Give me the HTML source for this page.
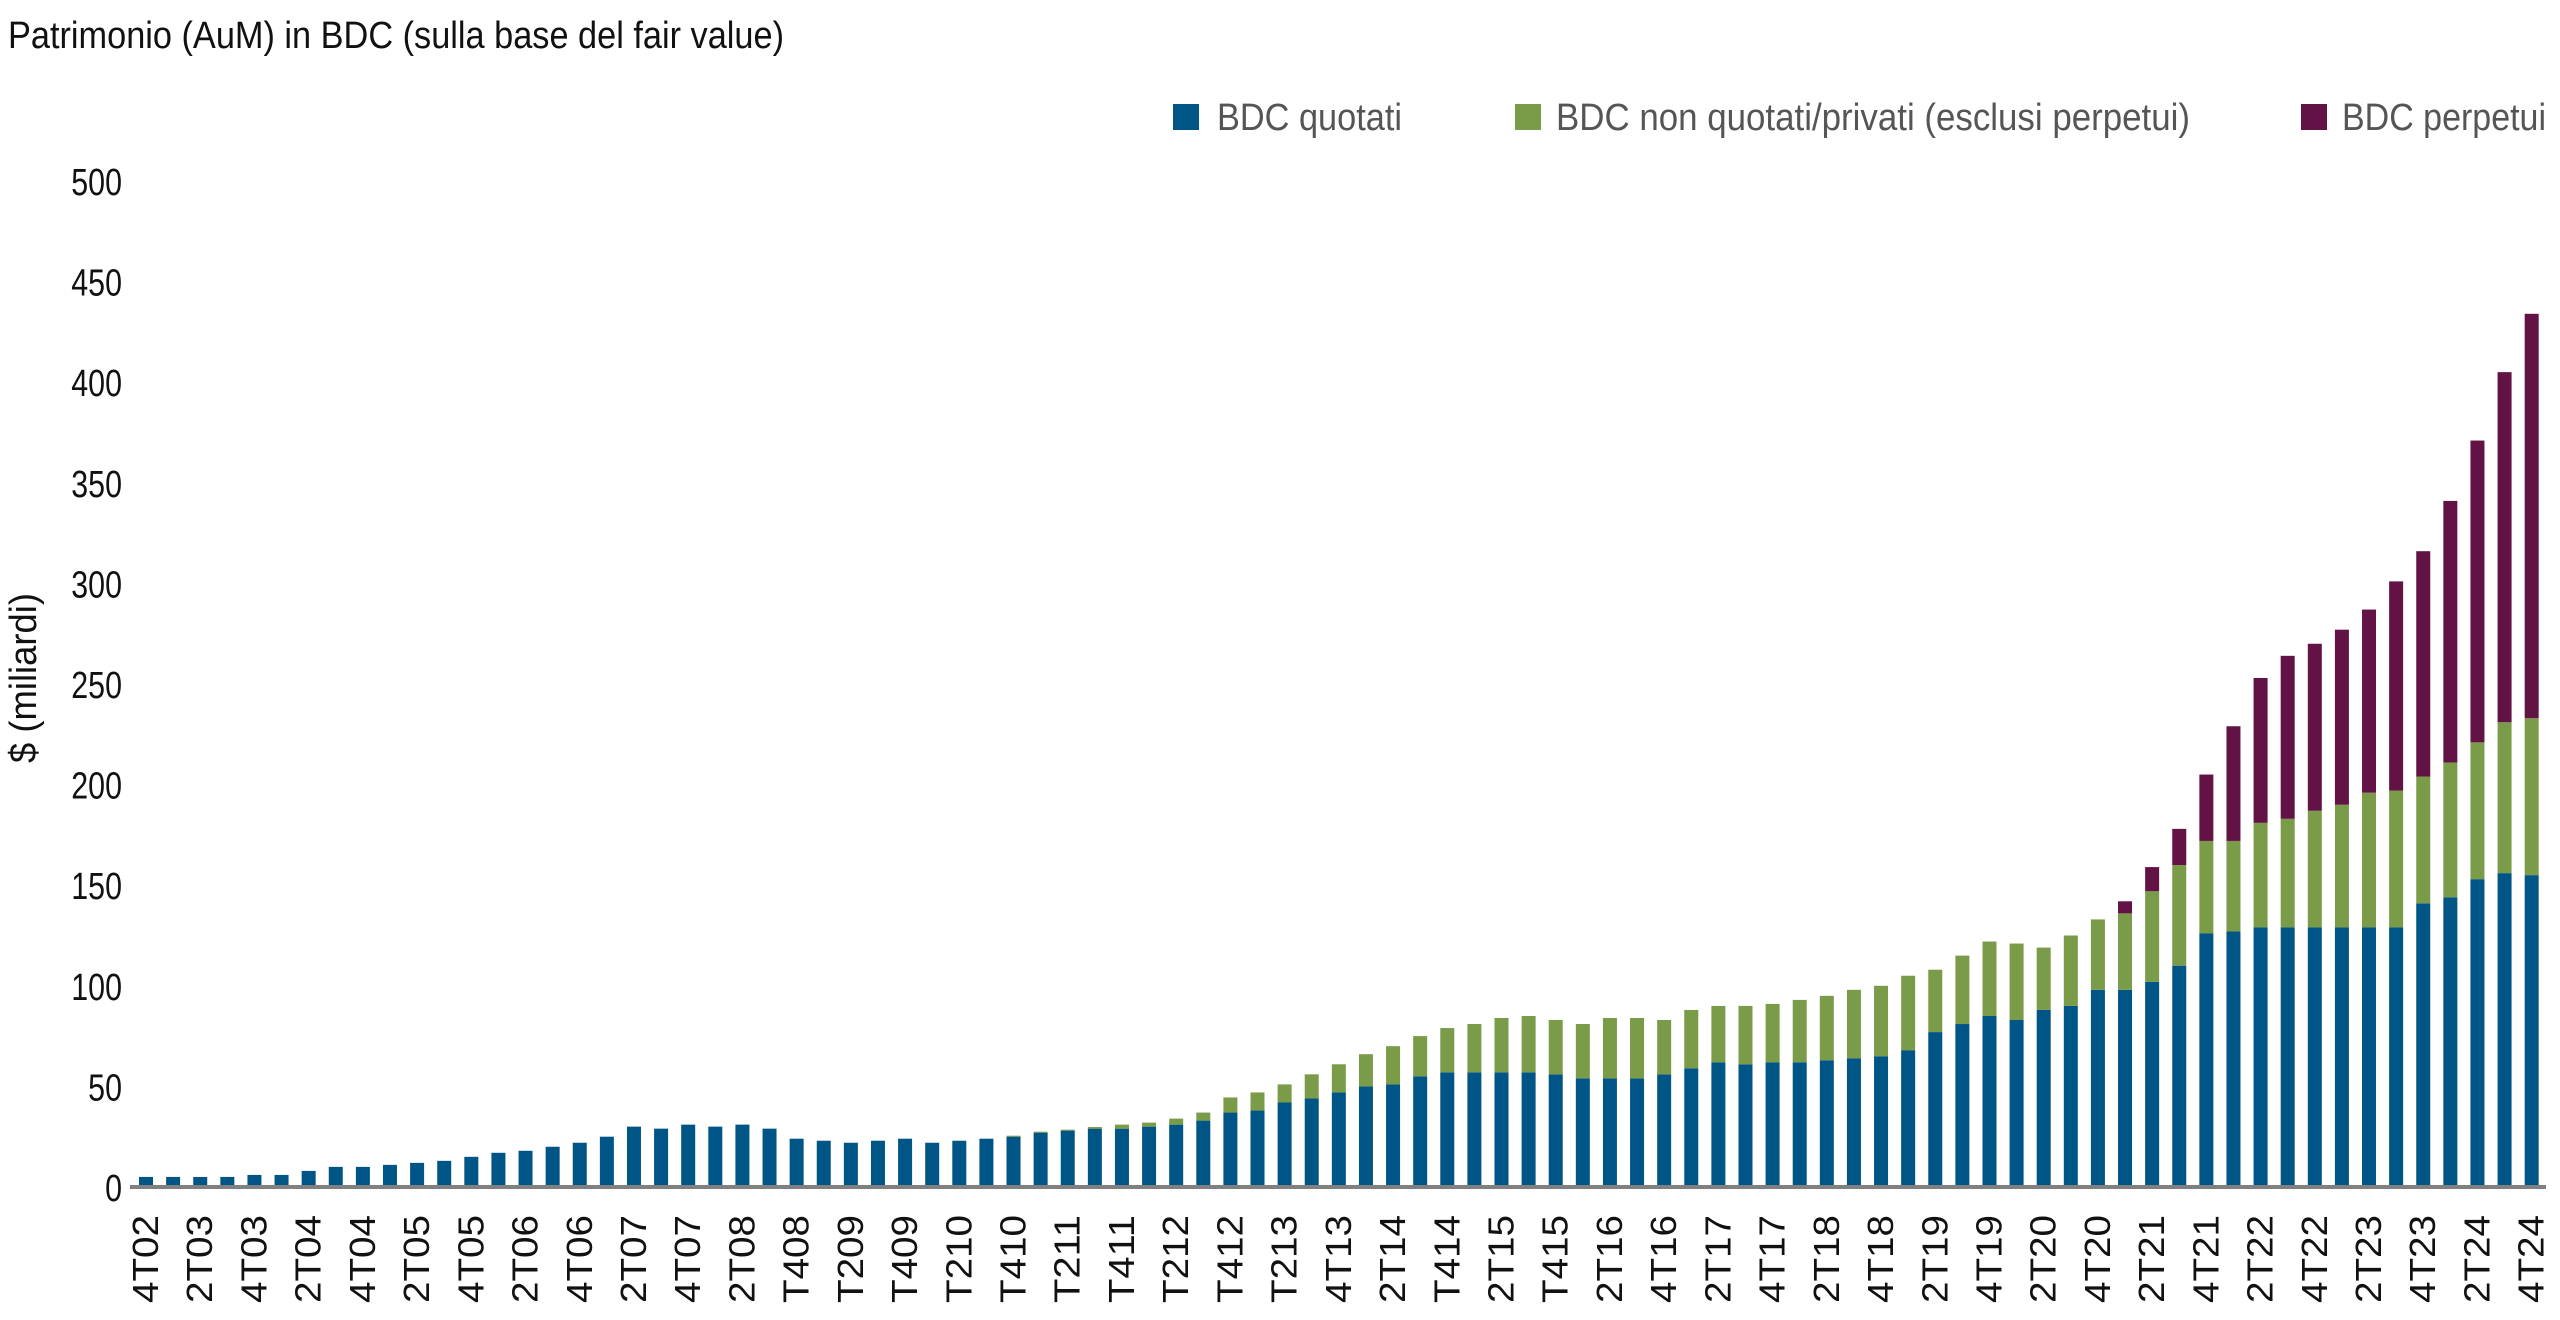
<!DOCTYPE html>
<html><head><meta charset="utf-8"><style>
html,body{margin:0;padding:0;background:#fff;}
svg{display:block;}
text{font-family:"Liberation Sans",sans-serif;}
</style></head><body>
<svg id="c" width="2560" height="1320" xmlns="http://www.w3.org/2000/svg">
<text x="8" y="48" font-size="38" fill="#111" textLength="776" lengthAdjust="spacingAndGlyphs">Patrimonio (AuM) in BDC (sulla base del fair value)</text>
<rect x="1173" y="104" width="26" height="26" fill="#005587"/>
<text x="1217" y="130" font-size="38" fill="#555" textLength="185" lengthAdjust="spacingAndGlyphs">BDC quotati</text>
<rect x="1515" y="104" width="26" height="26" fill="#7a9c48"/>
<text x="1556" y="130" font-size="38" fill="#555" textLength="634" lengthAdjust="spacingAndGlyphs">BDC non quotati/privati (esclusi perpetui)</text>
<rect x="2301" y="104" width="26" height="26" fill="#621244"/>
<text x="2342" y="130" font-size="38" fill="#555" textLength="204" lengthAdjust="spacingAndGlyphs">BDC perpetui</text>
<text transform="translate(36,678) rotate(-90)" text-anchor="middle" font-size="38" fill="#111" textLength="170" lengthAdjust="spacingAndGlyphs">$ (miliardi)</text>
<g id="g"></g>
</svg>
<script>
var B=[5,5,5,5,6,6,8,10,10,11,12,13,15,17,18,20,22,25,30,29,31,30,31,29,24,23,22,23,24,22,23,24,25,27,28,29,29,30,31,33,37,38,42,44,47,50,51,55,57,57,57,57,56,54,54,54,56,59,62,61,62,62,63,64,65,68,77,81,85,83,88,90,98,98,102,110,126,127,129,129,129,129,129,129,141,144,153,156,155];
var G=B.slice(0,32).concat([25.5,27.5,28.5,29.8,31,32,34,37,44.5,47,51,56,61,66,70,75,79,81,84,85,83,81,84,84,83,88,90,90,91,93,95,98,100,105,108,115,122,121,119,125,133,136,147,160,172,172,181,183,187,190,196,197,204,211,221,231,233]);
var P=G.slice();P[73]=142;P[74]=159;P[75]=178;P[76]=205;P[77]=229;P[78]=253;P[79]=264;P[80]=270;P[81]=277;P[82]=287;P[83]=301;P[84]=316;P[85]=341;P[86]=371;P[87]=405;P[88]=434;
var L="4T02,2T03,4T03,2T04,4T04,2T05,4T05,2T06,4T06,2T07,4T07,2T08,T408,T209,T409,T210,T410,T211,T411,T212,T412,T213,4T13,2T14,T414,2T15,T415,2T16,4T16,2T17,4T17,2T18,4T18,2T19,4T19,2T20,4T20,2T21,4T21,2T22,4T22,2T23,4T23,2T24,4T24".split(",");
var y0=1187,k=2.012,s="";
for(var v=0;v<=500;v+=50){var y=y0-v*k;s+='<text x="122" y="'+(y+14)+'" font-size="38" fill="#111" text-anchor="end" transform="translate(122,0) scale(0.8,1) translate(-122,0)">'+v+'</text>';}
function r(x,a,b,c){if(b<=a)return"";return '<rect x="'+(x-7)+'" y="'+(y0-b*k)+'" width="14" height="'+((b-a)*k)+'" fill="'+c+'"/>';}
for(var i=0;i<89;i++){var x=146+i*27.11;s+=r(x,0,B[i],"#005587")+r(x,B[i],G[i],"#7a9c48")+r(x,G[i],P[i],"#621244");
if(i%2==0){s+='<text transform="translate('+(x+12)+',1215) rotate(-90)" text-anchor="end" font-size="36" fill="#111" textLength="88" lengthAdjust="spacingAndGlyphs">'+L[i/2]+'</text>';}}
s+='<rect x="130" y="1185" width="2416" height="4" fill="#808080"/>';
document.getElementById("g").innerHTML=s;
</script>
</body></html>
